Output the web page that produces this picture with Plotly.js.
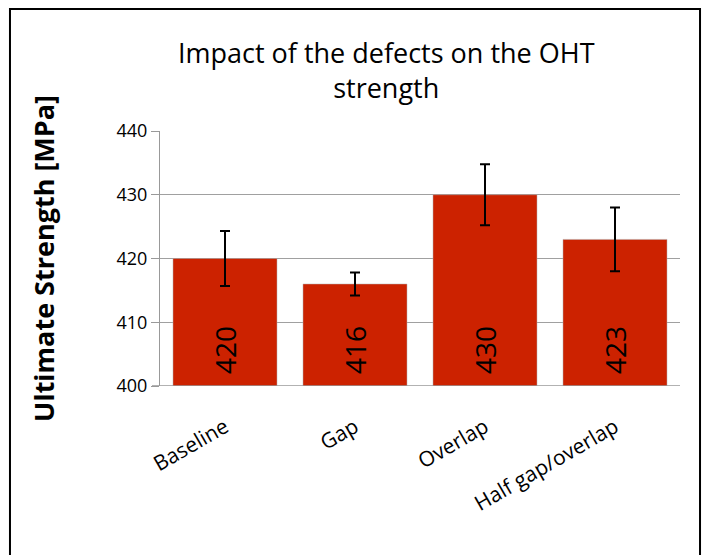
<!DOCTYPE html>
<html>
<head>
<meta charset="utf-8">
<script src="https://cdn.plot.ly/plotly-3.0.1.min.js"></script>
<style>
html,body{margin:0;padding:0;background:#fff;}
#chart{width:710px;height:555px;}
</style>
</head>
<body>
<div id="chart"></div>
<script>
const categories = ["Baseline", "Gap", "Overlap", "Half gap/overlap"];
const strength = [420, 416, 430, 423];
const errors = [4.3, 1.8, 4.8, 5.0];
const yTicks = [400, 410, 420, 430, 440];

const trace = {
  type: 'bar',
  x: categories,
  y: strength,
  marker: {color: '#cc2200', line: {color: '#b0b0b0', width: 0.5}},
  error_y: {type: 'data', array: errors, visible: true, color: '#000000', thickness: 2, width: 5},
  hoverinfo: 'none'
};

const labelAnnotations = categories.map((c, i) => ({
  x: c, y: 400, xref: 'x', yref: 'y',
  text: String(strength[i]),
  textangle: -90,
  showarrow: false,
  xanchor: 'center', yanchor: 'bottom',
  yshift: 10,
  font: {family: 'Open Sans, sans-serif', size: 28, color: '#000000'}
}));

const layout = {
  width: 710, height: 555,
  margin: {l: 160, r: 30, t: 131, b: 169},
  paper_bgcolor: '#ffffff', plot_bgcolor: '#ffffff',
  showlegend: false,
  bargap: 0.2,
  title: {
    text: 'Impact of the defects on the OHT<br>strength',
    font: {family: 'Open Sans, sans-serif', size: 27, color: '#000000'},
    x: 0.544, xanchor: 'center', y: 0.887, yanchor: 'top'
  },
  xaxis: {
    tickangle: -30,
    tickfont: {family: 'Open Sans, sans-serif', size: 21, color: '#000000'},
    showline: false, showgrid: false, ticks: '',
    ticklabelstandoff: 24,
    fixedrange: true
  },
  yaxis: {
    range: [400, 440],
    tickvals: yTicks,
    ticktext: yTicks.map(String),
    tickfont: {family: 'Open Sans, sans-serif', size: 18, color: '#000000'},
    ticks: 'outside', ticklen: 8, tickcolor: '#999999', tickwidth: 1,
    showline: true, linecolor: '#999999', linewidth: 1,
    showgrid: true, gridcolor: '#a0a0a0', gridwidth: 1,
    zeroline: false,
    title: {text: 'Ultimate Strength [MPa]', font: {family: 'Open Sans, sans-serif', size: 27, color: '#000000', weight: 'bold'}, standoff: 54},
    fixedrange: true
  },
  annotations: labelAnnotations,
  shapes: [
    {type: 'rect', xref: 'paper', yref: 'paper', x0: -0.2885, x1: 1.0385, y0: -0.8, y1: 1.4784,
     line: {color: '#000000', width: 2}, fillcolor: 'rgba(0,0,0,0)', layer: 'below'},
    {type: 'line', xref: 'paper', yref: 'y', x0: -0.0154, x1: 1, y0: 400, y1: 400,
     line: {color: '#999999', width: 1.5}}
  ]
};

Plotly.newPlot('chart', [trace], layout, {displayModeBar: false, staticPlot: true});
</script>
</body>
</html>
